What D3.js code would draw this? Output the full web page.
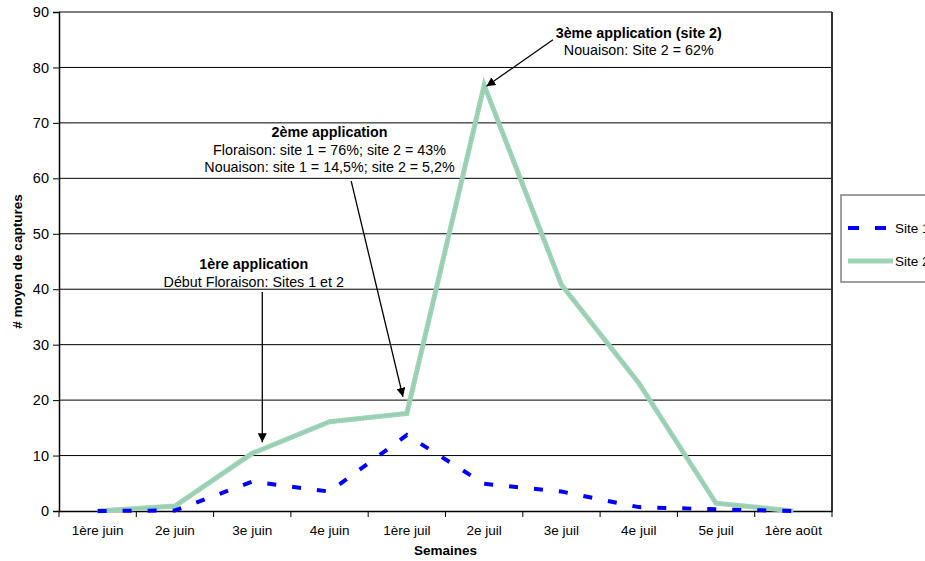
<!DOCTYPE html>
<html>
<head>
<meta charset="utf-8">
<script src="https://cdn.jsdelivr.net/npm/d3@7"></script>
<style>
  body { margin: 0; background: #fff; }
  svg { font-family: "Liberation Sans", Arial, sans-serif; }
</style>
</head>
<body>
<script>
var semaines = ['1ère juin', '2e juin', '3e juin', '4e juin', '1ère juil', '2e juil', '3e juil', '4e juil', '5e juil', '1ère août'];
var site1 = [0, 0.1, 5.3, 3.5, 13.7, 4.9, 3.5, 0.7, 0.3, 0];
var site2 = [0, 0.9, 10.4, 16.1, 17.6, 76.8, 40.8, 23.1, 1.4, 0];
var yTicks = [0, 10, 20, 30, 40, 50, 60, 70, 80, 90];

// annotations, placed in data space (week index, value)
var notes = [
  {lines: ['1ère application', 'Début Floraison: Sites 1 et 2'], at: [2.02, 43.6], from: [2.13, 39.5], to: [2.13, 12.4]},
  {lines: ['2ème application', 'Floraison: site 1 = 76%; site 2 = 43%', 'Nouaison: site 1 = 14,5%; site 2 = 5,2%'], at: [3.0, 67.4], from: [3.28, 59.5], to: [3.95, 20.6]},
  {lines: ['3ème application (site 2)', 'Nouaison: Site 2 = 62%'], at: [7.0, 85.4], from: [5.89, 85.0], to: [5.03, 76.6]}
];

var W = 925, H = 561;
var m = {left: 59, top: 12, right: 93, bottom: 50};
var pw = W - m.left - m.right, ph = H - m.top - m.bottom;

var svg = d3.select('body').append('svg').attr('width', W).attr('height', H);

var x = d3.scaleBand().domain(semaines).range([0, pw]).padding(0);
var y = d3.scaleLinear().domain([0, 90]).range([ph, 0]);
var xi = d3.scaleLinear().domain([0, semaines.length - 1]).range([x.bandwidth() / 2, pw - x.bandwidth() / 2]);

var defs = svg.append('defs');
defs.append('marker').attr('id', 'arr').attr('viewBox', '0 0 10 10').attr('refX', 10).attr('refY', 5)
  .attr('markerWidth', 9).attr('markerHeight', 9).attr('markerUnits', 'userSpaceOnUse').attr('orient', 'auto')
  .append('path').attr('d', 'M0,0 L10,5 L0,10 Z').attr('fill', '#000');

var g = svg.append('g').attr('transform', 'translate(' + m.left + ',' + m.top + ')');

// grid lines
g.selectAll('line.grid').data(yTicks.slice(1)).enter().append('line')
  .attr('class', 'grid')
  .attr('x1', 0).attr('x2', pw)
  .attr('y1', d => y(d)).attr('y2', d => y(d))
  .attr('stroke', '#000').attr('stroke-width', 1);

// plot border right
g.append('line').attr('x1', pw).attr('x2', pw).attr('y1', 0).attr('y2', ph)
  .attr('stroke', '#333').attr('stroke-width', 2);

// y axis
var yAxis = g.append('g').call(d3.axisLeft(y).tickValues(yTicks).tickSize(6).tickPadding(4));
yAxis.select('.domain').attr('stroke', '#000').attr('stroke-width', 1.5);
yAxis.selectAll('text').attr('font-size', 14.5).attr('fill', '#000').attr('font-family', 'Liberation Sans, Arial, sans-serif');

// x axis
var xAxis = g.append('g').attr('transform', 'translate(0,' + ph + ')')
  .call(d3.axisBottom(x).tickSize(0).tickPadding(14));
xAxis.select('.domain').attr('stroke', '#000').attr('stroke-width', 1.5);
xAxis.selectAll('text').attr('font-size', 13.5).attr('fill', '#000').attr('font-family', 'Liberation Sans, Arial, sans-serif');
xAxis.selectAll('line.bnd').data(semaines.concat(['end'])).enter().append('line')
  .attr('class', 'bnd')
  .attr('x1', (d, i) => i * x.step()).attr('x2', (d, i) => i * x.step())
  .attr('y1', 0).attr('y2', 6).attr('stroke', '#000');

// axis titles
svg.append('text').attr('x', m.left + pw / 2).attr('y', H - 6).attr('text-anchor', 'middle')
  .attr('font-size', 13.5).attr('font-weight', 'bold').text('Semaines');
svg.append('text').attr('transform', 'translate(22,' + (m.top + ph / 2) + ') rotate(-90)')
  .attr('text-anchor', 'middle').attr('font-size', 13.5).attr('font-weight', 'bold').text('# moyen de captures');

// lines
var line = d3.line().x((d, i) => xi(i)).y(d => y(d));

g.append('path').attr('d', line(site2)).attr('fill', 'none')
  .attr('stroke', '#9fd3b8').attr('stroke-width', 5).attr('stroke-linejoin', 'miter');
g.append('path').attr('d', line(site2)).attr('fill', 'none')
  .attr('stroke', '#7fbc9d').attr('stroke-width', 1).attr('stroke-dasharray', '1,2');

g.append('path').attr('d', line(site1)).attr('fill', 'none')
  .attr('stroke', '#0000ff').attr('stroke-width', 4).attr('stroke-dasharray', '9,16');

// annotations
notes.forEach(function(n) {
  var t = g.append('text').attr('text-anchor', 'middle').attr('font-size', 14.3);
  n.lines.forEach(function(s, i) {
    t.append('tspan').attr('x', xi(n.at[0])).attr('y', y(n.at[1]) + i * 17.5)
      .attr('font-weight', i === 0 ? 'bold' : 'normal').text(s);
  });
  g.append('line')
    .attr('x1', xi(n.from[0])).attr('y1', y(n.from[1]))
    .attr('x2', xi(n.to[0])).attr('y2', y(n.to[1]))
    .attr('stroke', '#000').attr('stroke-width', 1.3).attr('marker-end', 'url(#arr)');
});

// legend
var lg = svg.append('g').attr('transform', 'translate(841,195)');
lg.append('rect').attr('width', 120).attr('height', 87).attr('fill', '#fff')
  .attr('stroke', '#808080').attr('stroke-width', 1.5);
lg.append('line').attr('x1', 7).attr('x2', 52).attr('y1', 33).attr('y2', 33)
  .attr('stroke', '#0000ff').attr('stroke-width', 4).attr('stroke-dasharray', '11,16');
lg.append('line').attr('x1', 7).attr('x2', 52).attr('y1', 66).attr('y2', 66)
  .attr('stroke', '#9fd3b8').attr('stroke-width', 5);
lg.append('text').attr('x', 54).attr('y', 38).attr('font-size', 13.5).text('Site 1');
lg.append('text').attr('x', 54).attr('y', 71).attr('font-size', 13.5).text('Site 2');
</script>
</body>
</html>
